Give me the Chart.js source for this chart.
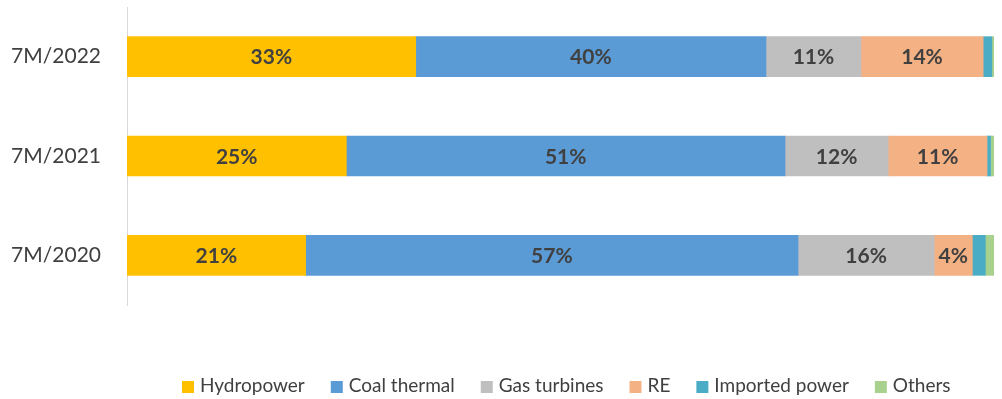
<!DOCTYPE html>
<html>
<head>
<meta charset="utf-8">
<script src="https://cdn.jsdelivr.net/npm/chart.js@4/dist/chart.umd.min.js"></script>
<style>
  html, body { margin: 0; padding: 0; background: #fff; }
  #wrap { width: 1002px; height: 399px; position: relative; }
</style>
</head>
<body>
<div id="wrap"><canvas id="chart"></canvas></div>
<script>
// Données (parts en %)
const periods = ["7M/2022", "7M/2021", "7M/2020"];
const hydropower = [33.3, 25.3, 20.6];
const coalThermal = [40.4, 50.6, 56.8];
const gasTurbines = [10.95, 11.9, 15.7];
const renewables = [14.1, 11.4, 4.4];
const importedPower = [1.0, 0.4, 1.5];
const others = [0.25, 0.4, 1.0];

const fontFamily = "Lato, 'Noto Sans', sans-serif";
const textColor = "#404040";

// Étiquettes au centre des barres (sauf petites séries)
const barLabels = {
  id: "barLabels",
  afterDatasetsDraw(chart) {
    const ctx = chart.ctx;
    ctx.save();
    ctx.font = "bold 21px " + fontFamily;
    ctx.fillStyle = textColor;
    ctx.textAlign = "center";
    ctx.textBaseline = "middle";
    chart.data.datasets.forEach((ds, i) => {
      if (!ds.showLabel) return;
      chart.getDatasetMeta(i).data.forEach((bar, j) => {
        const p = bar.getCenterPoint();
        ctx.fillText(Math.round(ds.data[j]) + "%", p.x, p.y + 1);
      });
    });
    ctx.restore();
  }
};

// Légende dessinée à la main en bas (carré 12px + texte)
const bottomLegend = {
  id: "bottomLegend",
  afterDraw(chart) {
    const ctx = chart.ctx;
    const area = chart.chartArea;
    ctx.save();
    ctx.font = "19px " + fontFamily;
    ctx.textBaseline = "middle";
    ctx.textAlign = "left";
    let x = area.left + 55;
    const y = 387;
    chart.data.datasets.forEach(ds => {
      ctx.fillStyle = ds.backgroundColor;
      ctx.fillRect(x, y - 6, 12, 12);
      x += 12 + 6;
      ctx.fillStyle = textColor;
      ctx.fillText(ds.label, x, y - 1);
      x += ctx.measureText(ds.label).width + 26;
    });
    ctx.restore();
  }
};

new Chart(document.getElementById("chart"), {
  type: "bar",
  data: {
    labels: periods,
    datasets: [
      { label: "Hydropower", data: hydropower, backgroundColor: "#FFC000", showLabel: true },
      { label: "Coal thermal", data: coalThermal, backgroundColor: "#5B9BD5", showLabel: true },
      { label: "Gas turbines", data: gasTurbines, backgroundColor: "#BFBFBF", showLabel: true },
      { label: "RE", data: renewables, backgroundColor: "#F4B183", showLabel: true },
      { label: "Imported power", data: importedPower, backgroundColor: "#4BACC6", showLabel: false },
      { label: "Others", data: others, backgroundColor: "#A9D18E", showLabel: false }
    ]
  },
  options: {
    indexAxis: "y",
    responsive: true,
    maintainAspectRatio: false,
    animation: false,
    barThickness: 40,
    layout: { padding: { top: 7, right: 8, left: 0, bottom: 94 } },
    scales: {
      x: {
        stacked: true,
        display: false,
        min: 0,
        max: 100
      },
      y: {
        stacked: true,
        grid: { display: false },
        border: { display: true, color: "#D9D9D9", width: 1 },
        ticks: {
          color: textColor,
          padding: 18,
          font: { family: fontFamily, size: 21 }
        },
        afterFit: scale => {
          scale.width = 127;
          scale.paddingTop = 0;
          scale.paddingBottom = 0;
        }
      }
    },
    plugins: {
      tooltip: { enabled: false },
      legend: { display: false }
    }
  },
  plugins: [barLabels, bottomLegend]
});
</script>
</body>
</html>
